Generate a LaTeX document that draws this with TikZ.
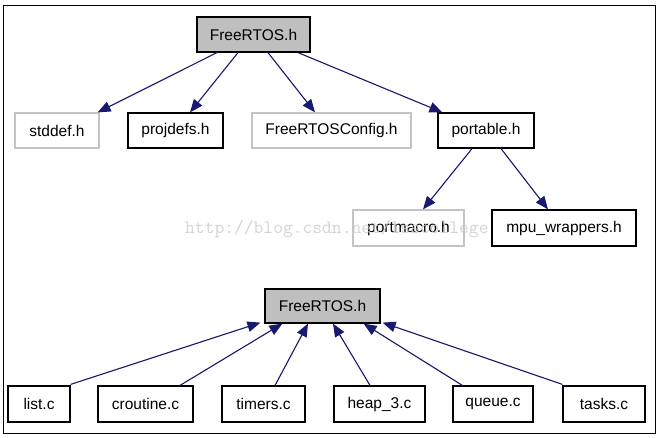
\documentclass[tikz,border=0pt]{standalone}
\usepackage{fontspec}
\setmainfont{Liberation Sans}
\usetikzlibrary{arrows.meta}
\definecolor{edgeblue}{HTML}{191970}
\definecolor{hlgray}{HTML}{BFBFBF}
\definecolor{ltborder}{HTML}{C4C4C4}
\definecolor{wmgray}{HTML}{C8C8C8}
\tikzset{
  fbox/.style={draw=black, line width=1.2pt, fill=white, inner sep=0pt, minimum height=35pt,
    font=\fontsize{15.5pt}{17pt}\selectfont},
  lbox/.style={fbox, draw=ltborder},
  hbox/.style={fbox, fill=hlgray},
  dep/.style={draw=edgeblue, line width=1.1pt, -{Triangle[length=13pt,width=10.5pt]}, fill=edgeblue},
}
\begin{document}
\begin{tikzpicture}[x=1pt,y=-1pt]
\useasboundingbox (0,0) rectangle (660,437);
\draw[line width=1pt] (3,5) rectangle (655,433);
% top graph
\node[hbox, minimum width=113pt] (t0) at (253.5,34.5) {FreeRTOS.h};
\node[lbox, minimum width=84pt] (stddef) at (57,130.5) {stddef.h};
\node[fbox, minimum width=95pt] (projdefs) at (175.5,130.5) {projdefs.h};
\node[lbox, minimum width=159pt] (config) at (331.5,130.5) {FreeRTOSConfig.h};
\node[fbox, minimum width=96pt] (portable) at (486,130.5) {portable.h};
\node[lbox, minimum width=111pt, minimum height=36pt] (portmacro) at (408.5,228) {portmacro.h};
\node[fbox, minimum width=144pt, minimum height=36pt] (mpu) at (564,228) {mpu\_wrappers.h};
\draw[dep] ([xshift=-36.5pt]t0.south) -- ([xshift=-2pt]stddef.north east);
\draw[dep] ([xshift=-15.5pt]t0.south) -- ([xshift=14.5pt]projdefs.north);
\draw[dep] ([xshift=14.5pt]t0.south) -- ([xshift=-16.5pt]config.north);
\draw[dep] ([xshift=44.5pt]t0.south) -- ([xshift=5pt]portable.north west);
\draw[dep] ([xshift=-14pt]portable.south) -- ([xshift=14.5pt]portmacro.north);
\draw[dep] ([xshift=15pt]portable.south) -- ([xshift=-16pt]mpu.north);
% bottom graph
\node[hbox, minimum width=115pt, minimum height=34pt] (b0) at (322.5,306) {FreeRTOS.h};
\node[fbox, minimum width=62pt, minimum height=36pt] (list) at (39,404) {list.c};
\node[fbox, minimum width=95pt, minimum height=36pt] (croutine) at (145.5,404) {croutine.c};
\node[fbox, minimum width=83pt, minimum height=36pt] (timers) at (263.5,404) {timers.c};
\node[fbox, minimum width=91pt, minimum height=36pt] (heap) at (379.5,404) {heap\_3.c};
\node[fbox, minimum width=80pt, minimum height=36pt] (queue) at (493,404) {queue.c};
\node[fbox, minimum width=82pt, minimum height=36pt] (tasks) at (604,404) {tasks.c};
\draw[dep] ([yshift=1pt]list.north east) -- ([xshift=-4pt,yshift=1pt]b0.south west);
\draw[dep] ([xshift=34.5pt]croutine.north) -- ([xshift=18pt]b0.south west);
\draw[dep] ([xshift=11.5pt]timers.north) -- ([xshift=-14.5pt]b0.south);
\draw[dep] ([xshift=-9.5pt]heap.north) -- ([xshift=10.5pt]b0.south);
\draw[dep] ([xshift=10pt]queue.north west) -- ([xshift=-17pt]b0.south east);
\draw[dep] ([yshift=1pt]tasks.north west) -- ([xshift=2pt,yshift=1pt]b0.south east);
% watermark
\node[anchor=base west, inner sep=0pt, text=wmgray, opacity=0.8, font=\ttfamily\fontsize{19pt}{21pt}\selectfont] (wm) at (185,233) {http://blog.csdn.net/lsscollege};
\end{tikzpicture}
\end{document}
